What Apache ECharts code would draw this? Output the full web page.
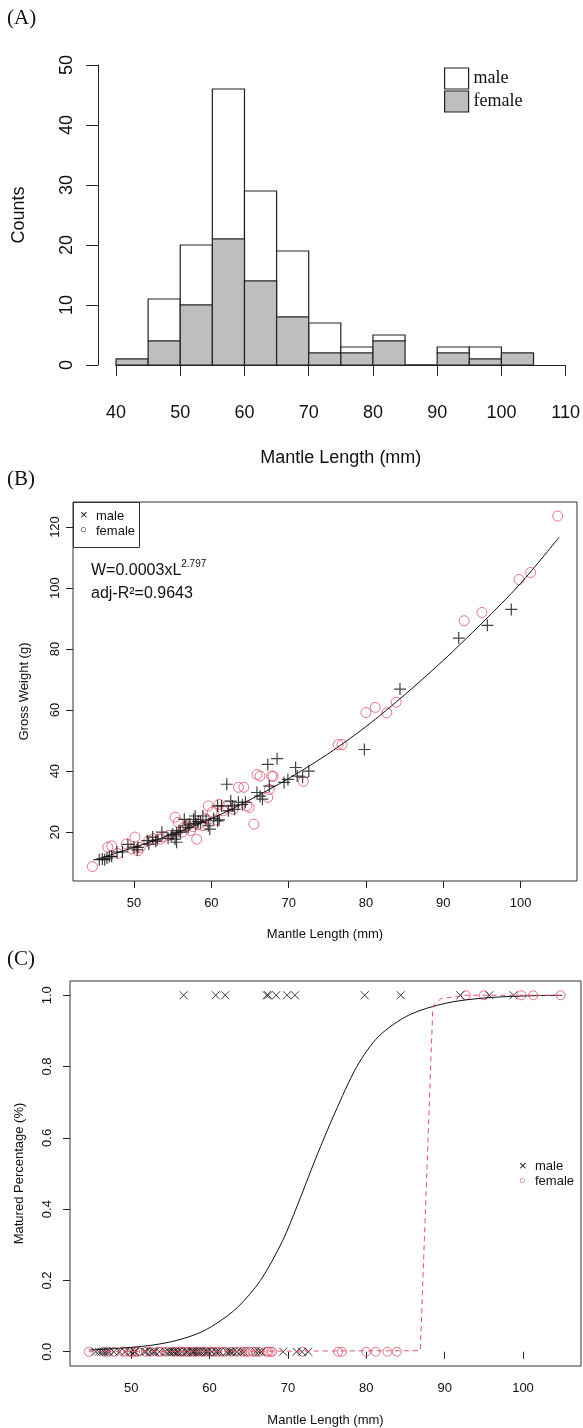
<!DOCTYPE html>
<html><head><meta charset="utf-8">
<script src="https://cdn.jsdelivr.net/npm/echarts@6/dist/echarts.min.js"></script>
<style>html,body{margin:0;padding:0;background:#fff}#c{width:583px;height:1428px}</style>
</head><body><div id="c"></div>
<script>
// ---------- Panel A: histogram ----------
const binStarts    = [40, 45, 50, 55, 60, 65, 70, 75, 80, 85, 90, 95, 100];
const binEnds      = [45, 50, 55, 60, 65, 70, 75, 80, 85, 90, 95, 100, 105];
const femaleCounts = [1, 4, 10, 21, 14, 8, 2, 2, 4, 0, 2, 1, 2];
const maleCounts   = [0, 7, 10, 25, 15, 11, 5, 1, 1, 0, 1, 2, 0];
const histXTicks   = [40, 50, 60, 70, 80, 90, 100, 110];

// ---------- Panels B & C: specimens (mantle length mm, gross weight g, mature 0/1) ----------
const maleL = [45.5,45.9,46.2,46.5,46.8,47.1,47.8,48.5,49.2,50.0,50.4,50.5,51.7,51.9,52.4,52.8,53.0,53.6,54.4,54.8,55.0,55.3,55.5,55.5,55.8,56.0,56.5,56.7,57.0,57.2,57.7,57.9,58.0,58.3,58.6,58.9,59.3,59.6,59.8,60.3,60.8,60.8,61.0,61.3,62.0,62.2,62.5,62.7,63.0,63.5,64.0,64.4,65.9,66.3,66.6,67.3,67.5,68.5,69.4,69.9,70.9,71.1,71.8,72.6,79.8,84.4,92.0,95.7,98.8];
const maleW = [11.0,11.2,11.0,11.5,12.0,12.1,13.5,13.5,16.0,15.1,14.2,15.0,17.2,16.1,18.4,17.0,17.5,20.0,18.0,18.8,19.3,17.7,16.7,19.8,20.5,20.0,24.2,22.1,21.5,22.6,24.2,25.3,22.8,23.5,23.2,25.3,24.0,22.1,21.0,24.5,23.7,28.6,24.0,28.6,35.7,27.0,30.2,28.6,27.5,29.8,29.0,29.8,33.0,31.8,30.8,42.2,35.1,44.1,36.3,37.3,41.2,38.4,38.0,40.0,47.1,66.9,83.6,87.8,93.0];
const maleM = [0,0,0,0,0,0,0,0,0,0,0,0,0,0,0,0,0,0,0,0,0,0,0,0,0,0,0,1,0,0,0,0,0,0,0,0,0,0,0,0,0,1,0,0,1,0,0,0,0,0,0,0,0,0,0,1,1,1,0,1,1,0,0,0,1,1,1,1,1];

const femaleL = [44.6,46.6,47.1,47.9,49.0,49.7,50.1,50.5,50.8,51.9,52.5,53.4,53.8,54.5,55.3,55.7,56.2,56.5,56.9,57.3,57.6,58.1,58.4,58.9,59.2,59.6,60.1,60.5,61.0,61.5,62.0,62.8,63.5,64.2,64.6,64.9,65.5,65.9,66.3,67.3,67.5,67.8,68.0,71.9,76.4,76.9,80.0,81.2,82.7,83.9,92.7,95.0,99.8,101.3,104.8];
const femaleW = [8.7,15.1,15.5,13.0,16.1,14.5,18.4,13.9,15.0,17.2,17.8,17.7,18.4,19.0,24.9,23.2,20.0,21.6,22.1,20.5,21.8,17.7,22.5,22.1,24.5,28.6,26.5,24.0,29.1,27.0,28.6,27.5,34.7,34.7,28.6,28.1,22.6,38.9,38.4,31.4,34.0,38.4,38.3,36.7,48.7,48.7,59.2,60.9,59.1,62.6,89.3,92.0,102.8,105.1,123.6];
const femaleM = [0,0,0,0,0,0,0,0,0,0,0,0,0,0,0,0,0,0,0,0,0,0,0,0,0,0,0,0,0,0,0,0,0,0,0,0,0,0,0,0,0,0,0,0,0,0,0,0,0,0,1,1,1,1,1];

// fitted length-weight curve
const fitL = [45, 50, 55, 60, 65, 70, 75, 80, 85, 90, 95, 100, 105];
const fitW = [11.0, 15.0, 19.4, 24.4, 30.6, 37.6, 45.5, 54.6, 65.0, 76.3, 88.5, 101.5, 116.7];

// maturity curves
const maleCurveL = [44.6, 48, 51.8, 55.1, 58.4, 60.8, 63.6, 66.5, 69.3, 71.2, 73.6, 76.0, 78.8, 81.6, 85.5, 90.2, 94.9, 100, 105];
const maleCurveP = [0.005, 0.009, 0.016, 0.028, 0.050, 0.078, 0.125, 0.20, 0.31, 0.41, 0.545, 0.67, 0.80, 0.885, 0.945, 0.978, 0.992, 0.998, 1.0];
const femaleCurveL = [44.6, 86.9, 88.5, 89.5, 92.7, 105];
const femaleCurveP = [0, 0.003, 0.97, 0.99, 1.0, 1.0];

const scatterXTicks = [50, 60, 70, 80, 90, 100];
const weightTicks = [20, 40, 60, 80, 100, 120];
const propTicks = [0, 0.2, 0.4, 0.6, 0.8, 1.0];

// ---------- styling ----------
const SANS = 'Liberation Sans';
const SERIF = 'Liberation Serif';
const PINK = '#DF536B';
const INK = '#222';
const plusPath = 'path://M5,0L5,10M0,5L10,5';
const crossPath = 'path://M0,0L10,10M10,0L0,10';

function histItem(fill) {
  return function (params, api) {
    const a = api.coord([api.value(0), api.value(3)]);
    const b = api.coord([api.value(1), api.value(2)]);
    return { type: 'rect', shape: { x: a[0], y: a[1], width: b[0] - a[0], height: b[1] - a[1] },
      style: { fill: fill, stroke: INK, lineWidth: 1.2 } };
  };
}

const maleHist = binStarts.map((s, i) => [s, binEnds[i], femaleCounts[i], femaleCounts[i] + maleCounts[i]]);
const femaleHist = binStarts.map((s, i) => [s, binEnds[i], 0, femaleCounts[i]]);

const axisLineS = { show: true, lineStyle: { color: INK, width: 1 } };
const smallLabel = { color: '#111', fontFamily: SANS, fontSize: 13 };

const chart = echarts.init(document.getElementById('c'));
chart.setOption({
  animation: false,
  backgroundColor: '#fff',
  title: [
    { text: '(A)', left: 7, top: 8, padding: 0, textStyle: { fontFamily: SERIF, fontSize: 21, fontWeight: 'normal', color: '#111' } },
    { text: '(B)', left: 7, top: 469, padding: 0, textStyle: { fontFamily: SERIF, fontSize: 21, fontWeight: 'normal', color: '#111' } },
    { text: '(C)', left: 7, top: 949, padding: 0, textStyle: { fontFamily: SERIF, fontSize: 21, fontWeight: 'normal', color: '#111' } }
  ],
  legend: {
    left: 444, top: 67, orient: 'vertical', itemWidth: 24, itemHeight: 21, itemGap: 0, padding: 0,
    icon: 'rect', selectedMode: false,
    textStyle: { fontFamily: SERIF, fontSize: 18, color: '#111', lineHeight: 20, padding: [0, 0, 3, 0] },
    data: [
      { name: 'male', itemStyle: { color: '#fff', borderColor: INK, borderWidth: 1.2 } },
      { name: 'female', itemStyle: { color: '#BEBEBE', borderColor: INK, borderWidth: 1.2 } }
    ]
  },
  grid: [
    { left: 116, right: 17, top: 65, height: 300 },
    { left: 73, right: 6, top: 502, height: 379, show: true, borderColor: '#333', borderWidth: 1, backgroundColor: 'transparent' },
    { left: 70, right: 2, top: 981, height: 385, show: true, borderColor: '#333', borderWidth: 1, backgroundColor: 'transparent' }
  ],
  xAxis: [
    { gridIndex: 0, type: 'value', min: 40, max: 110, interval: 10, offset: 13,
      axisLine: axisLineS, axisTick: { show: true, length: 11, lineStyle: { color: INK } },
      axisLabel: { color: '#111', fontFamily: SANS, fontSize: 18, margin: 26, customValues: histXTicks },
      splitLine: { show: false },
      name: 'Mantle Length (mm)', nameLocation: 'middle', nameGap: 71,
      nameTextStyle: { color: '#111', fontFamily: SANS, fontSize: 18 } },
    { gridIndex: 1, type: 'value', min: 42.1, max: 107.3,
      axisLine: { show: false }, axisTick: { show: true, length: 7, customValues: scatterXTicks, lineStyle: { color: INK } },
      axisLabel: Object.assign({ margin: 16, customValues: scatterXTicks }, smallLabel),
      splitLine: { show: false },
      name: 'Mantle Length (mm)', nameLocation: 'middle', nameGap: 47,
      nameTextStyle: smallLabel },
    { gridIndex: 2, type: 'value', min: 42.2, max: 107.4,
      axisLine: { show: false }, axisTick: { show: true, length: 7, customValues: scatterXTicks, lineStyle: { color: INK } },
      axisLabel: Object.assign({ margin: 16, customValues: scatterXTicks }, smallLabel),
      splitLine: { show: false },
      name: 'Mantle Length (mm)', nameLocation: 'middle', nameGap: 48,
      nameTextStyle: smallLabel }
  ],
  yAxis: [
    { gridIndex: 0, type: 'value', min: 0, max: 50, interval: 10, offset: 18,
      axisLine: axisLineS, axisTick: { show: true, length: 12, lineStyle: { color: INK } },
      axisLabel: { color: '#111', fontFamily: SANS, fontSize: 18, rotate: 90, margin: 22 },
      splitLine: { show: false },
      name: 'Counts', nameLocation: 'middle', nameRotate: 90, nameGap: 70,
      nameTextStyle: { color: '#111', fontFamily: SANS, fontSize: 18 } },
    { gridIndex: 1, type: 'value', min: 4.0, max: 128.2,
      axisLine: { show: false }, axisTick: { show: true, length: 7, customValues: weightTicks, lineStyle: { color: INK } },
      axisLabel: Object.assign({ rotate: 90, margin: 11, customValues: weightTicks }, smallLabel),
      splitLine: { show: false },
      name: 'Gross Weight (g)', nameLocation: 'middle', nameRotate: 90, nameGap: 42,
      nameTextStyle: smallLabel },
    { gridIndex: 2, type: 'value', min: -0.04, max: 1.04,
      axisLine: { show: false }, axisTick: { show: true, length: 7, customValues: propTicks, lineStyle: { color: INK } },
      axisLabel: Object.assign({ rotate: 90, margin: 16, customValues: propTicks, formatter: v => v.toFixed(1) }, smallLabel),
      splitLine: { show: false },
      name: 'Matured Percentage (%)', nameLocation: 'middle', nameRotate: 90, nameGap: 44,
      nameTextStyle: smallLabel }
  ],
  series: [
    { name: 'male', type: 'custom', xAxisIndex: 0, yAxisIndex: 0, renderItem: histItem('#fff'),
      encode: { x: [0, 1], y: [2, 3] }, data: maleHist, itemStyle: { color: '#fff' } },
    { name: 'female', type: 'custom', xAxisIndex: 0, yAxisIndex: 0, renderItem: histItem('#BEBEBE'),
      encode: { x: [0, 1], y: [2, 3] }, data: femaleHist, itemStyle: { color: '#BEBEBE' } },

    { name: 'fitB', type: 'line', xAxisIndex: 1, yAxisIndex: 1, smooth: 0.3, showSymbol: false,
      lineStyle: { color: '#111', width: 1 }, data: fitL.map((l, i) => [l, fitW[i]]), z: 3 },
    { name: 'femaleB', type: 'scatter', xAxisIndex: 1, yAxisIndex: 1, symbol: 'circle', symbolSize: 10,
      itemStyle: { color: 'rgba(0,0,0,0)', borderColor: PINK, borderWidth: 1 },
      data: femaleL.map((l, i) => [l, femaleW[i]]), z: 2 },
    { name: 'maleB', type: 'scatter', xAxisIndex: 1, yAxisIndex: 1, symbol: plusPath, symbolSize: 12,
      itemStyle: { color: 'rgba(0,0,0,0)', borderColor: '#111', borderWidth: 1.2 },
      data: maleL.map((l, i) => [l, maleW[i]]), z: 2 },

    { name: 'maleCurveC', type: 'line', xAxisIndex: 2, yAxisIndex: 2, smooth: 0.3, showSymbol: false,
      lineStyle: { color: '#111', width: 1 }, data: maleCurveL.map((l, i) => [l, maleCurveP[i]]), z: 3 },
    { name: 'femaleCurveC', type: 'line', xAxisIndex: 2, yAxisIndex: 2, showSymbol: false,
      lineStyle: { color: PINK, width: 1, type: [5, 4] }, data: femaleCurveL.map((l, i) => [l, femaleCurveP[i]]), z: 3 },
    { name: 'femaleC', type: 'scatter', xAxisIndex: 2, yAxisIndex: 2, symbol: 'circle', symbolSize: 9,
      itemStyle: { color: 'rgba(0,0,0,0)', borderColor: PINK, borderWidth: 1 },
      data: femaleL.map((l, i) => [l, femaleM[i]]), z: 2 },
    { name: 'maleC', type: 'scatter', xAxisIndex: 2, yAxisIndex: 2, symbol: crossPath, symbolSize: 8,
      itemStyle: { color: 'rgba(0,0,0,0)', borderColor: '#111', borderWidth: 1 },
      data: maleL.map((l, i) => [l, maleM[i]]), z: 2 }
  ],
  graphic: [
    // legend B
    { type: 'rect', left: 73, top: 502, shape: { width: 66, height: 45 }, style: { fill: '#fff', stroke: '#333', lineWidth: 1 }, z: 10 },
    { type: 'text', left: 80, top: 509, style: { text: '×', fontFamily: SANS, fontSize: 13, fill: '#111' }, z: 11 },
    { type: 'text', left: 80, top: 524, style: { text: '○', fontFamily: SANS, fontSize: 11, fill: '#111' }, z: 11 },
    { type: 'text', left: 96, top: 510, style: { text: 'male', fontFamily: SANS, fontSize: 13, fill: '#111' }, z: 11 },
    { type: 'text', left: 96, top: 525, style: { text: 'female', fontFamily: SANS, fontSize: 13, fill: '#111' }, z: 11 },
    // equation
    { type: 'text', left: 91, top: 559, z: 11, style: {
      text: '{a|W=0.0003xL}{b|2.797}', rich: {
        a: { fontFamily: SANS, fontSize: 16, fill: '#111', verticalAlign: 'bottom', lineHeight: 20 },
        b: { fontFamily: SANS, fontSize: 10, fill: '#111', verticalAlign: 'top', lineHeight: 20, padding: [0, 0, 10, 0] } } } },
    { type: 'text', left: 91, top: 586, z: 11, style: { text: 'adj-R²=0.9643', fontFamily: SANS, fontSize: 16, fill: '#111' } },
    // legend C
    { type: 'text', left: 519, top: 1160, style: { text: '×', fontFamily: SANS, fontSize: 13, fill: '#111' }, z: 11 },
    { type: 'text', left: 519, top: 1175, style: { text: '○', fontFamily: SANS, fontSize: 11, fill: PINK }, z: 11 },
    { type: 'text', left: 535, top: 1160, style: { text: 'male', fontFamily: SANS, fontSize: 13, fill: '#111' }, z: 11 },
    { type: 'text', left: 535, top: 1175, style: { text: 'female', fontFamily: SANS, fontSize: 13, fill: '#111' }, z: 11 }
  ]
});
</script>
</body></html>
